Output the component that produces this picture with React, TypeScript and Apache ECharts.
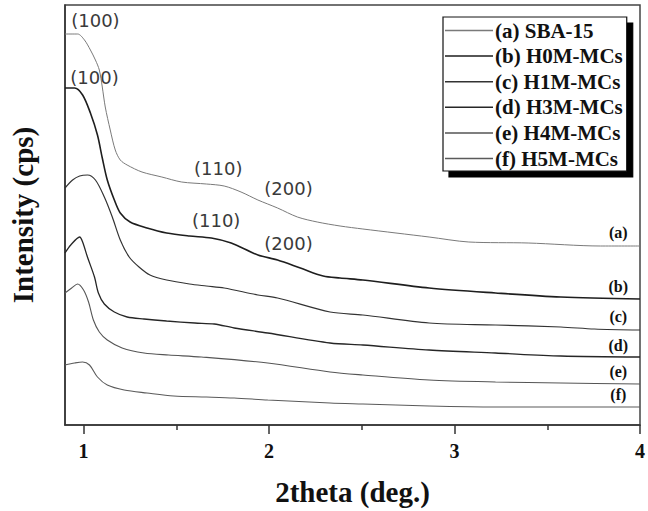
import React, { useEffect, useRef } from "react";
import * as echarts from "echarts";

// 2theta (deg.) positions and intensities (arbitrary units)
const xA = [0.9, 0.968, 1.005, 1.037, 1.064, 1.085, 1.101, 1.117, 1.144, 1.171, 1.198, 1.235, 1.315, 1.422, 1.529, 1.662, 1.758, 1.849, 1.94, 2.046, 2.153, 2.26, 2.383, 2.506, 2.863, 3.077, 3.397, 3.787, 4.0];
const yA = [391, 391, 385, 375, 365, 355, 338, 318, 295, 275, 265, 260, 253, 248, 243, 241, 239, 233, 225, 217, 208, 203, 199, 196, 188, 183, 182, 179, 179];

const xB = [0.9, 0.952, 0.995, 1.037, 1.075, 1.101, 1.128, 1.166, 1.198, 1.251, 1.342, 1.448, 1.571, 1.689, 1.796, 1.94, 2.046, 2.169, 2.292, 2.383, 2.506, 2.863, 3.221, 3.573, 4.0];
const yB = [337, 337, 330, 312, 290, 267, 245, 225, 212, 203, 197, 192, 189, 187, 182, 170, 165, 157, 149, 147, 145, 137, 132, 128, 126];

const xC = [0.9, 0.941, 0.979, 1.021, 1.064, 1.112, 1.155, 1.198, 1.246, 1.299, 1.358, 1.448, 1.571, 1.662, 1.758, 1.94, 2.046, 2.329, 2.506, 2.863, 3.221, 3.573, 3.754, 4.0];
const yC = [237, 245, 249, 250, 245, 228, 208, 185, 168, 158, 150, 145, 141, 139, 137, 130, 127, 113, 110, 102, 100, 98, 96, 95];

const xD = [0.9, 0.931, 0.979, 0.995, 1.021, 1.059, 1.08, 1.112, 1.166, 1.235, 1.326, 1.448, 1.6, 1.705, 1.812, 1.993, 2.329, 2.506, 2.863, 3.221, 3.573, 4.0];
const yD = [172, 180, 188, 183, 168, 148, 132, 121, 113, 108, 106, 104, 102, 101, 97, 92, 82, 80, 75, 72, 69, 68];

const xE = [0.9, 0.936, 0.968, 1.0, 1.027, 1.053, 1.085, 1.128, 1.208, 1.326, 1.459, 1.635, 1.993, 2.329, 2.506, 2.863, 3.221, 3.573, 4.0];
const yE = [132, 137, 141, 135, 123, 105, 93, 85, 77, 72, 70, 68, 62, 53, 50, 45, 43, 42, 41];

const xF = [0.9, 0.952, 0.995, 1.032, 1.075, 1.128, 1.219, 1.342, 1.486, 1.662, 1.812, 1.993, 2.329, 2.506, 2.863, 3.221, 3.755, 4.0];
const yF = [60, 62, 63, 60, 48, 40, 35, 32, 29, 28, 27, 25, 22, 21, 19, 18, 18, 18];

const seriesNames = ["(a) SBA-15", "(b) H0M-MCs", "(c) H1M-MCs", "(d) H3M-MCs", "(e) H4M-MCs", "(f) H5M-MCs"];
const endLabels = ["(a)", "(b)", "(c)", "(d)", "(e)", "(f)"];
const endLabelY = [193, 139, 109, 80, 54, 31];
const endLabelX = 3.883;

// peak annotations: [series index, label, x, y]
const peakLabels: [number, string, number, number][] = [
  [0, "(100)", 1.064, 405],
  [0, "(110)", 1.726, 257],
  [0, "(200)", 2.105, 237],
  [1, "(100)", 1.059, 348],
  [1, "(110)", 1.715, 205],
  [1, "(200)", 2.105, 182],
];

const majorTicks = [1, 2, 3, 4];
const minorTicks = [1.5, 2.5, 3.5];

const colors = ["#7a7a7a", "#1e1e1e", "#333333", "#262626", "#555555", "#5a5a5a"];
const widths = [1, 1.6, 1.2, 1.3, 1.1, 1.1];

const zip = (xs: number[], ys: number[]) => xs.map((x, i) => [x, ys[i]]);

export default function App() {
  const ref = useRef<HTMLDivElement>(null);
  useEffect(() => {
    document.body.style.margin = "0";
    const chart = echarts.init(ref.current!, undefined, { renderer: "svg" });
    const xs = [xA, xB, xC, xD, xE, xF];
    const ys = [yA, yB, yC, yD, yE, yF];
    const serif = "'Liberation Serif', 'Times New Roman', serif";
    const series: any[] = seriesNames.map((name, i) => ({
      type: "line",
      name,
      data: zip(xs[i], ys[i]),
      xAxisIndex: 0,
      symbol: "none",
      smooth: 0.3,
      lineStyle: { color: colors[i], width: widths[i] },
      itemStyle: { color: colors[i] },
      markPoint: {
        symbol: "rect",
        symbolSize: 1,
        itemStyle: { color: "rgba(0,0,0,0)" },
        silent: true,
        data: [
          {
            name: endLabels[i],
            coord: [endLabelX, endLabelY[i]],
            label: {
              show: true,
              position: "inside",
              formatter: (p: any) => p.name,
              fontFamily: serif,
              fontWeight: "bold",
              fontSize: 16,
              color: "#111",
            },
          },
          ...peakLabels
            .filter((p) => p[0] === i)
            .map((p) => ({
              name: p[1],
              coord: [p[2], p[3]],
              label: {
                show: true,
                position: "inside",
                formatter: (q: any) => q.name,
                fontFamily: "'DejaVu Sans', sans-serif",
                fontSize: 18,
                color: "#3a3a3a",
              },
            })),
        ],
      },
    }));
    chart.setOption({
      animation: false,
      backgroundColor: "#fff",
      grid: {
        left: 62,
        right: 5,
        top: 5,
        bottom: 86,
        show: true,
        borderColor: "#444",
        borderWidth: 1.5,
        backgroundColor: "#fff",
      },
      legend: {
        orient: "vertical",
        left: 443,
        top: 17,
        data: seriesNames,
        icon: "rect",
        itemWidth: 48,
        itemHeight: 1.5,
        itemGap: 4.6,
        padding: [3, 4, 2, 2],
        backgroundColor: "#fff",
        borderColor: "#111",
        borderWidth: 1.2,
        shadowColor: "#000",
        shadowBlur: 0,
        shadowOffsetX: 6,
        shadowOffsetY: 6,
        textStyle: {
          fontFamily: serif,
          fontWeight: "bold",
          fontSize: 21,
          lineHeight: 21,
          color: "#111",
          padding: [0, 0, 0, -3],
        },
      },
      xAxis: [
        {
          type: "value",
          min: 0.9,
          max: 4,
          name: "2theta (deg.)",
          nameLocation: "middle",
          nameGap: 52,
          nameTextStyle: { fontFamily: serif, fontWeight: "bold", fontSize: 29, color: "#111" },
          axisLine: { show: true, lineStyle: { color: "#333", width: 1.5 } },
          axisTick: { show: true, customValues: majorTicks, length: 9, lineStyle: { color: "#333", width: 1.5 } },
          axisLabel: {
            customValues: majorTicks,
            fontFamily: serif,
            fontWeight: "bold",
            fontSize: 20,
            color: "#111",
            margin: 16,
          },
          splitLine: { show: false },
        },
        {
          type: "value",
          min: 0.9,
          max: 4,
          position: "bottom",
          axisLine: { show: false },
          axisTick: { show: true, customValues: minorTicks, length: 5, lineStyle: { color: "#333", width: 1.5 } },
          axisLabel: { show: false },
          splitLine: { show: false },
        },
      ],
      yAxis: {
        type: "value",
        min: 0,
        max: 420,
        name: "Intensity (cps)",
        nameLocation: "middle",
        nameGap: 28,
        nameRotate: 90,
        nameTextStyle: { fontFamily: serif, fontWeight: "bold", fontSize: 29, color: "#111" },
        axisLine: { show: true, lineStyle: { color: "#333", width: 1.5 } },
        axisTick: { show: false },
        axisLabel: { show: false },
        splitLine: { show: false },
      },
      series,
    });
    return () => chart.dispose();
  }, []);
  return <div ref={ref} style={{ width: 648, height: 511 }} />;
}
